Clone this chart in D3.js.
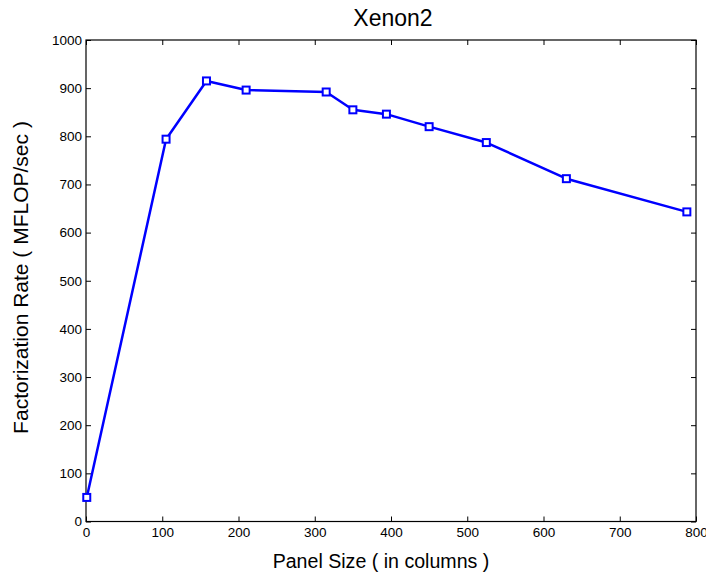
<!DOCTYPE html>
<html><head><meta charset="utf-8">
<script src="https://cdn.jsdelivr.net/npm/d3@7/dist/d3.min.js"></script>
<style>body{margin:0;background:#fff}svg{display:block}text{font-family:"Liberation Sans",Arial,sans-serif}</style>
</head><body>
<svg id="c" width="706" height="574"></svg>
<script>
const panelSize = [1, 105, 158, 210, 315, 350, 394, 450, 525, 630, 788];
const rate = [50, 794, 915, 896, 892, 855, 846, 820, 787, 712, 643];
const xTicks = [0, 100, 200, 300, 400, 500, 600, 700, 800];
const yTicks = [0, 100, 200, 300, 400, 500, 600, 700, 800, 900, 1000];
const title = "Xenon2";
const xLabel = "Panel Size ( in columns )";
const yLabel = "Factorization Rate ( MFLOP/sec )";

const svg = d3.select("#c");
const L = 86, R = 696, T = 40, B = 521.5;
const x = d3.scaleLinear().domain([0, 800]).range([L, R]);
const y = d3.scaleLinear().domain([0, 1000]).range([B, T]);
const fmt = d3.format("d");

const tl = 5;
svg.append("g").attr("transform", `translate(0,${B})`)
  .call(d3.axisBottom(x).tickValues(xTicks).tickFormat(fmt).tickSizeInner(-tl).tickSizeOuter(0).tickPadding(6))
  .call(g => { g.select(".domain").remove(); g.selectAll("text").attr("font-size", 13.5).attr("fill", "#000"); });
svg.append("g").attr("transform", `translate(0,${T})`)
  .call(d3.axisTop(x).tickValues(xTicks).tickSizeInner(-tl).tickSizeOuter(0).tickFormat(""))
  .call(g => g.select(".domain").remove());
svg.append("g").attr("transform", `translate(${L},0)`)
  .call(d3.axisLeft(y).tickValues(yTicks).tickFormat(fmt).tickSizeInner(-tl).tickSizeOuter(0).tickPadding(4))
  .call(g => { g.select(".domain").remove(); g.selectAll("text").attr("font-size", 13.5).attr("fill", "#000"); });
svg.append("g").attr("transform", `translate(${R},0)`)
  .call(d3.axisRight(y).tickValues(yTicks).tickSizeInner(-tl).tickSizeOuter(0).tickFormat(""))
  .call(g => g.select(".domain").remove());
svg.selectAll(".tick line").attr("stroke", "#000");

svg.append("rect").attr("x", L).attr("y", T).attr("width", R - L).attr("height", B - T)
  .attr("fill", "none").attr("stroke", "#000").attr("stroke-width", 1.2);

const line = d3.line().x((d, i) => x(panelSize[i])).y(d => y(d));
svg.append("path").datum(rate).attr("d", line)
  .attr("fill", "none").attr("stroke", "#0000ff").attr("stroke-width", 2.5).attr("stroke-linejoin", "round");

svg.selectAll("rect.m").data(rate).enter().append("rect").attr("class", "m")
  .attr("x", (d, i) => x(panelSize[i]) - 3.5).attr("y", d => y(d) - 3.5)
  .attr("width", 7).attr("height", 7)
  .attr("fill", "#fff").attr("stroke", "#0000ff").attr("stroke-width", 2);

svg.append("text").attr("x", 393).attr("y", 26).attr("text-anchor", "middle")
  .attr("font-size", 23).text(title);
svg.append("text").attr("x", 381).attr("y", 568).attr("text-anchor", "middle")
  .attr("font-size", 19.6).text(xLabel);
svg.append("text").attr("transform", `translate(28,277.5) rotate(-90)`).attr("text-anchor", "middle")
  .attr("font-size", 21).text(yLabel);
</script>
</body></html>
